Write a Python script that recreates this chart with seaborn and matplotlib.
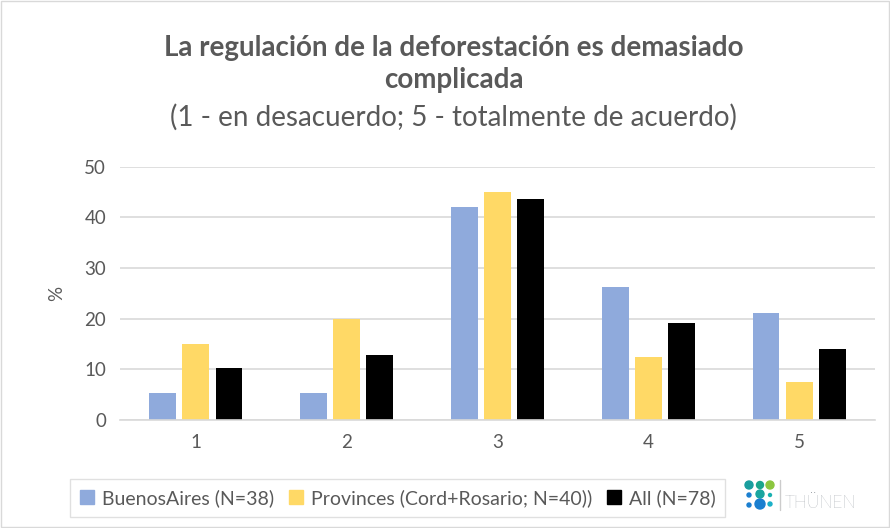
import matplotlib
matplotlib.use('Agg')

import matplotlib.pyplot as plt
import seaborn as sb
import pandas as pd
from matplotlib.patches import Circle

categories = ['1', '2', '3', '4', '5']
groups = ['BuenosAires (N=38)', 'Provinces (Cord+Rosario; N=40))', 'All (N=78)']
buenos_aires = [5.3, 5.3, 42.1, 26.3, 21.1]
provinces = [15.0, 20.0, 45.0, 12.5, 7.5]
all_resp = [10.3, 12.8, 43.6, 19.2, 14.1]
colors = ['#8faadc', '#ffd966', '#000000']

rows = []
for g, vals in zip(groups, [buenos_aires, provinces, all_resp]):
    for c, v in zip(categories, vals):
        rows.append({'Respuesta': c, 'Grupo': g, 'Pct': v})
df = pd.DataFrame(rows)

sb.set_style('white')
plt.rcParams['font.family'] = ['Lato', 'DejaVu Sans']

fig = plt.figure(figsize=(8.9, 5.28), dpi=100)
ax = fig.add_axes([0.135, 0.2045, 0.848, 0.4795])

sb.barplot(data=df, x='Respuesta', y='Pct', hue='Grupo', palette=colors, saturation=1,
           width=0.66, gap=0.2, ax=ax, legend=False, edgecolor='none')

ax.set_ylim(0, 50)
ax.set_yticks([0, 10, 20, 30, 40, 50])
ax.yaxis.grid(True, color='#d9d9d9', linewidth=1.2)
ax.set_axisbelow(True)
for s in ['top', 'right', 'left']:
    ax.spines[s].set_visible(False)
ax.spines['bottom'].set_color('#d9d9d9')
ax.spines['bottom'].set_linewidth(1.2)
ax.tick_params(axis='both', length=0, labelsize=13.5, labelcolor='#595959', pad=10)
ax.set_xlabel('')
ax.set_ylabel('%', fontsize=13.5, color='#595959', labelpad=14)

fig.text(0.51, 0.879, 'La regulación de la deforestación es demasiado\ncomplicada',
         ha='center', va='center', fontsize=20, fontweight='bold', color='#595959',
         linespacing=1.28)
fig.text(0.51, 0.777, '(1 - en desacuerdo; 5 - totalmente de acuerdo)',
         ha='center', va='center', fontsize=20, color='#595959')

handles = [plt.Rectangle((0, 0), 1, 1, color=c) for c in colors]
leg = fig.legend(handles, groups, loc='center', bbox_to_anchor=(0.447, 0.057),
                 ncol=3, fontsize=14, frameon=True, handlelength=0.7, handleheight=0.7,
                 handletextpad=0.4, columnspacing=0.8, borderpad=0.5, fancybox=False)
leg.get_frame().set_edgecolor('#d9d9d9')
for t in leg.get_texts():
    t.set_color('#595959')

# logo
lax = fig.add_axes([740 / 890, 1 - 515 / 528, 40 / 890, 40 / 528])
lax.set_xlim(740, 780)
lax.set_ylim(515, 475)
lax.axis('off')
dots = [(749, 485, 4, '#1a9e9e'), (760, 485, 3.5, '#1aa58c'), (770, 485, 4, '#8cc63f'),
        (749, 495, 2, '#1a7fd0'), (760, 494, 4, '#1aa5a0'), (770, 495, 1.5, '#1ab0b0'),
        (749, 505, 2, '#1a7fd0'), (760, 504, 5, '#1a7fd0'), (770, 504, 2, '#1ab0c8')]
for x, y, r, c in dots:
    lax.add_patch(Circle((x, y), r, color=c))
fig.lines.append(plt.Line2D([780 / 890, 780 / 890], [1 - 480 / 528, 1 - 510 / 528],
                            transform=fig.transFigure, color='#cccccc', linewidth=1))
fig.text(785 / 890, 1 - 503 / 528, 'THÜNEN', fontsize=12.5, color='#707880', va='center',
         fontweight='light')

fig.patches.append(plt.Rectangle((0.001, 0.001), 0.998, 0.998, transform=fig.transFigure,
                                 fill=False, edgecolor='#d9d9d9', linewidth=1))

fig.savefig('out.png', dpi=100)
